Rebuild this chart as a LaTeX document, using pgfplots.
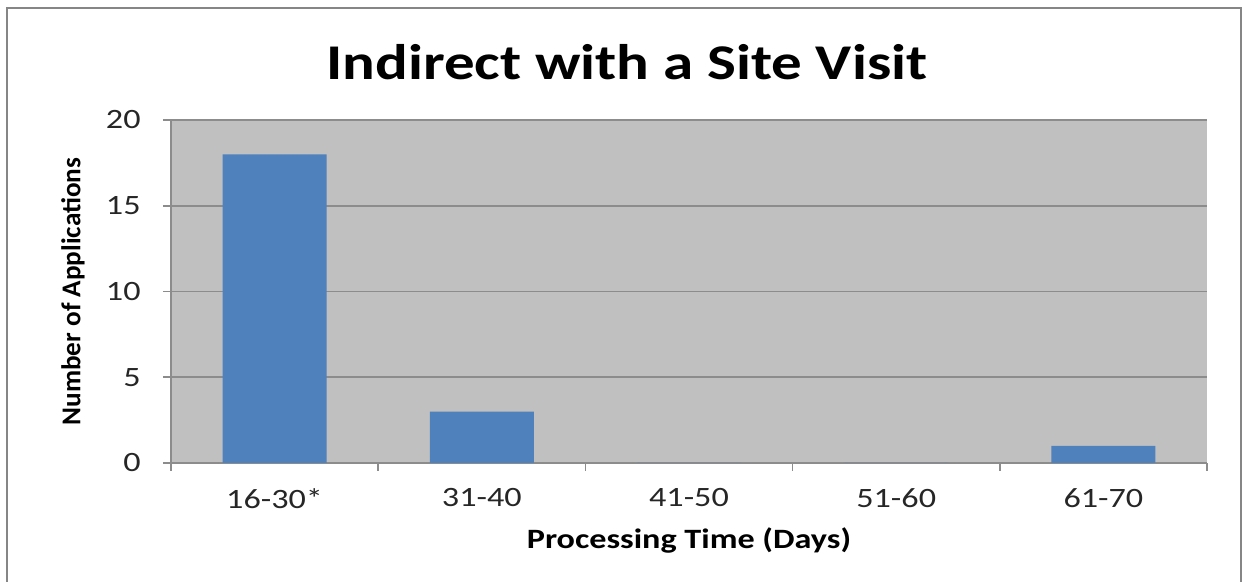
\documentclass[border=0pt]{standalone}
\usepackage{fontspec}
\setmainfont{Carlito}[FakeStretch=1.22]
\newfontfamily\ylabfont{Carlito}
\usepackage{pgfplots}
\pgfplotsset{compat=1.18}
\definecolor{plotbg}{HTML}{C0C0C0}
\definecolor{barblue}{HTML}{4F81BD}
\definecolor{gridgray}{HTML}{8C8C8C}
\definecolor{framegray}{HTML}{868686}
\definecolor{txt}{HTML}{262626}
\begin{document}
\begin{tikzpicture}
\useasboundingbox (0,0) rectangle (621.5pt,291pt);
\draw[framegray, line width=1.2pt] (3.5pt,-3pt) rectangle (620.5pt,287pt);
\begin{axis}[
  at={(85.5pt,59.5pt)}, anchor=south west,
  scale only axis, width=518pt, height=171.5pt,
  xmin=-0.5, xmax=4.5, ymin=0, ymax=20,
  axis lines=left, axis line style={-, gridgray, line width=0.8pt},
  axis background/.style={fill=plotbg},
  ytick={0,5,10,15,20},
  ymajorgrids, grid style={gridgray, line width=0.8pt},
  xtick={0,1,2,3,4},
  xticklabels={16-30*,31-40,41-50,51-60,61-70},
  major x tick style={draw=none},
  minor xtick={-0.5,0.5,1.5,2.5,3.5,4.5},
  minor x tick style={gridgray, line width=0.8pt},
  minor tick length=4pt,
  major tick length=4pt,
  tick align=outside,
  y tick style={gridgray, line width=0.8pt},
  /pgf/number format/assume math mode=true,
  tick label style={font=\fontsize{14}{16}\selectfont, text=txt},
  yticklabel style={anchor=east, inner sep=0pt, xshift=-11pt},
  xticklabel style={anchor=north, inner sep=0pt, yshift=-8.5pt},
  title={Indirect with a Site Visit},
  title style={at={(axis description cs:0.44,1.135)}, anchor=center, font=\fontsize{25}{28}\selectfont\bfseries},
  xlabel={Processing Time (Days)},
  xlabel style={at={(axis description cs:0.5,-0.2245)}, anchor=center, font=\fontsize{14}{16}\selectfont\bfseries},
  ylabel={Number of Applications},
  ylabel style={at={(axis description cs:-0.0946,0.5)}, anchor=center, rotate=0, font=\ylabfont\fontsize{13.6}{15}\selectfont\bfseries},
  ybar, bar width=52pt,
]
\addplot[fill=barblue, draw=none] coordinates {(0,18) (1,3) (2,0) (3,0) (4,1)};
\end{axis}
\end{tikzpicture}
\end{document}
